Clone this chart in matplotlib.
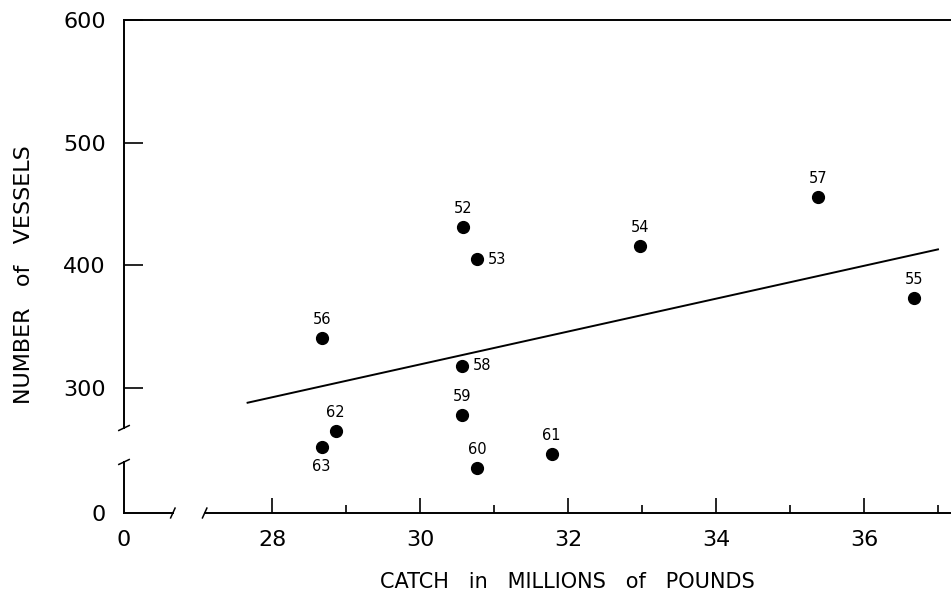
import numpy as np
import matplotlib
matplotlib.use("Agg")
import matplotlib.pyplot as plt

plt.rcParams['font.family'] = ['DejaVu Sans']

# catch (millions of pounds) vs number of vessels, labelled by year
years = ["52", "53", "54", "55", "56", "57", "58", "59", "60", "61", "62", "63"]
catch = [30.58, 30.77, 32.97, 36.68, 28.67, 35.38, 30.57, 30.57, 30.77, 31.78, 28.86, 28.67]
vessels = [431, 405, 416, 373, 341, 456, 318, 278, 235, 246, 265, 252]

# regression line end points
fit_x = [27.67, 37.0]
fit_y = [288, 413]

# label placement relative to the dot (dx, dy in points)
label_pos = {"53": (8, 0), "58": (8, 0), "63": (0, -9)}

x_zero, y_zero = 26.0, 198.1      # where the "0" of each axis sits
x_break = (26.66, 27.09)
y_break = (239.7, 267.4)

fig = plt.figure(figsize=(9.51, 5.93), dpi=100)
ax = fig.add_axes([0.1304, 0.1349, 0.8696, 0.8314])
ax.set_xlim(x_zero, 37.176)
ax.set_ylim(y_zero, 600)

ax.plot(fit_x, fit_y, color='black', lw=1.4)
ax.plot(catch, vessels, 'o', color='black', ms=8.5)

for yr, cx, cy in zip(years, catch, vessels):
    dx, dy = label_pos.get(yr, (0, 8))
    ha = 'left' if dx > 0 else 'center'
    va = 'center' if dy == 0 else ('bottom' if dy > 0 else 'top')
    ax.annotate(yr, (cx, cy), xytext=(dx, dy), textcoords='offset points',
                ha=ha, va=va, fontsize=10.5)

# axes with breaks
for s in ['left', 'bottom', 'right']:
    ax.spines[s].set_visible(False)
ax.spines['top'].set_linewidth(1.4)
lw = 1.4
ax.plot([x_zero, x_zero], [y_break[1], 600], color='black', lw=lw, clip_on=False)
ax.plot([x_zero, x_zero], [y_zero, y_break[0]], color='black', lw=lw, clip_on=False)
ax.plot([x_zero, x_break[0]], [y_zero, y_zero], color='black', lw=lw, clip_on=False)
ax.plot([x_break[1], 37.176], [y_zero, y_zero], color='black', lw=lw, clip_on=False)

# slash marks at the breaks
for yb in y_break:
    ax.plot([x_zero - 0.07, x_zero + 0.07], [yb - 2, yb + 2],
            color='black', lw=1.1, clip_on=False)
for xb in x_break:
    ax.plot([xb - 0.03, xb + 0.03], [y_zero - 4, y_zero + 4],
            color='black', lw=1.1, clip_on=False)

ax.set_xticks([x_zero, 28, 30, 32, 34, 36])
ax.set_xticklabels(["0", "28", "30", "32", "34", "36"])
ax.set_xticks([29, 31, 33, 35, 37], minor=True)
ax.set_yticks([y_zero, 300, 400, 500, 600])
ax.set_yticklabels(["0", "300", "400", "500", "600"])

ax.tick_params(axis='x', which='major', direction='in', length=11, width=1.2,
               pad=12, labelsize=16)
ax.tick_params(axis='x', which='minor', direction='in', length=6, width=1.2)
ax.tick_params(axis='y', which='major', direction='in', length=14, width=1.2,
               pad=13, labelsize=16)
# no tick marks at the zero positions
ax.xaxis.get_major_ticks()[0].tick1line.set_visible(False)
ax.yaxis.get_major_ticks()[0].tick1line.set_visible(False)

ax.set_xlabel("CATCH   in   MILLIONS   of   POUNDS", fontsize=15, va='center')
ax.xaxis.set_label_coords(0.536, -0.14)
ax.set_ylabel("NUMBER   of   VESSELS", fontsize=16, va='center')
ax.yaxis.set_label_coords(-0.121, 0.483)

fig.savefig("out.png", dpi=100)
